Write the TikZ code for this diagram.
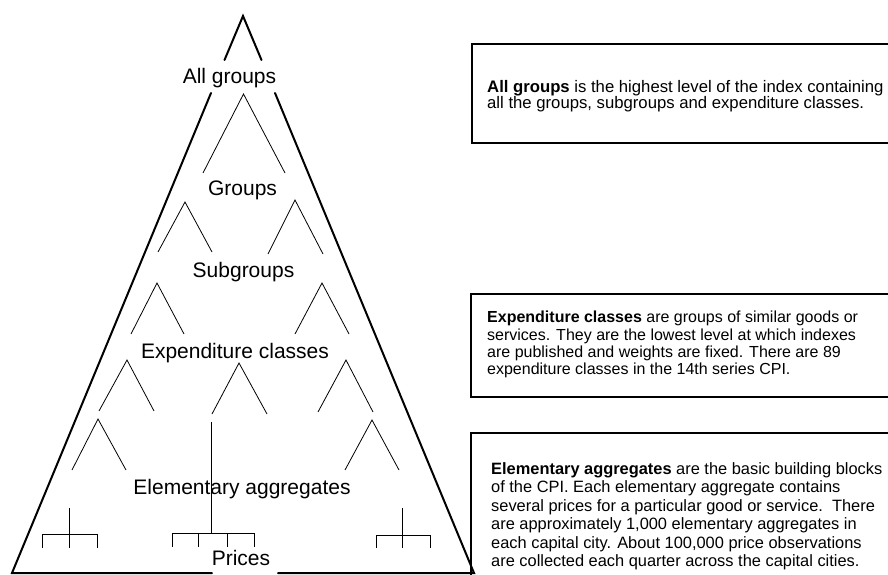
\documentclass[tikz,border=0pt]{standalone}
\usepackage{fontspec}
\setmainfont{Liberation Sans}
\begin{document}
\begin{tikzpicture}[x=1pt,y=-1pt,
  outer/.style={line width=2pt,line cap=round,line join=miter},
  thin/.style={line width=0.8pt},
  lvl/.style={inner sep=0pt,anchor=base,font=\fontsize{21}{24}\selectfont},
  boxline/.style={line width=2pt},
  desc/.style={inner sep=0pt,anchor=north west,align=left}]
\fill[white] (0,0) rectangle (888,575);
\useasboundingbox (0,0) rectangle (888,575);
% outer triangle
\coordinate (apex) at (243,16);
\coordinate (bl) at (12,573);
\coordinate (br) at (474,573);
\coordinate (l1) at (224.5,60);
\coordinate (r1) at (261.5,60);
\coordinate (l2) at (211,93);
\coordinate (r2) at (275,93);
\coordinate (b1) at (212,573);
\coordinate (b2) at (278,573);
\draw[outer] (l1) -- (apex) -- (r1);
\draw[outer] (b1) -- (bl) -- (l2);
\draw[outer] (r2) -- (br) -- (b2);
% level labels
\node[lvl] (allg) at (229.5,84) {All groups};
\node[lvl] (grp) at (242.5,195) {Groups};
\node[lvl] (sub) at (243.5,277.5) {Subgroups};
\node[lvl] (exp) at (235,358.5) {Expenditure classes};
\node[lvl] (ele) at (242,494.5) {Elementary aggregates};
\node[lvl] (pri) at (241,565) {Prices};
% inner branching triangles
\draw[thin] (203,173) -- (243.5,94) -- (285,173);
\draw[thin] (158,252) -- (185,202) -- (212,252);
\draw[thin] (268,254) -- (295,200) -- (323,254);
\draw[thin] (131,334) -- (157,283) -- (184,334);
\draw[thin] (295,334) -- (322,283) -- (349,334);
\draw[thin] (99,411) -- (127,360) -- (154,411);
\draw[thin] (212,414) -- (239,363) -- (267,414);
\draw[thin] (318,412) -- (346,360) -- (373,412);
\draw[thin] (72,470) -- (98,419) -- (126,470);
\draw[thin] (345,470) -- (372,420) -- (399,470);
% centre stem
\draw[thin] (211,422) -- (211,533);
% price trees
\draw[thin] (172,547) -- (172,533) -- (254,533) -- (254,547);
\draw[thin] (198,533) -- (198,547);
\draw[thin] (227,533) -- (227,547);
\draw[thin] (69,508) -- (69,548);
\draw[thin] (42,548) -- (42,534) -- (97,534) -- (97,548);
\draw[thin] (402,508) -- (402,548);
\draw[thin] (376,548) -- (376,535) -- (430,535) -- (430,548);
% description boxes
\draw[boxline] (472,44) rectangle (895,143);
\draw[boxline] (471,294) rectangle (895,397);
\draw[boxline] (471,433) rectangle (895,590);
\node[desc,font=\fontsize{16.7}{16.5}\selectfont] (d1) at (487,80)
  {\textbf{All groups} is the highest level of the index containing\\all the groups, subgroups and expenditure classes.};
\node[desc,font=\fontsize{16}{17.3}\selectfont] (d2) at (487,311)
  {\textbf{Expenditure classes} are groups of similar goods or\\services. They are the lowest level at which indexes\\are published and weights are fixed. There are 89\\expenditure classes in the 14th series CPI.};
\node[desc,font=\fontsize{16.4}{18.5}\selectfont] (d3) at (491,462.4)
  {\textbf{Elementary aggregates} are the basic building blocks\\of the CPI. Each elementary aggregate contains\\several prices for a particular good or service.\ \ There\\are approximately 1,000 elementary aggregates in\\each capital city. About 100,000 price observations\\are collected each quarter across the capital cities.};
\end{tikzpicture}
\end{document}
